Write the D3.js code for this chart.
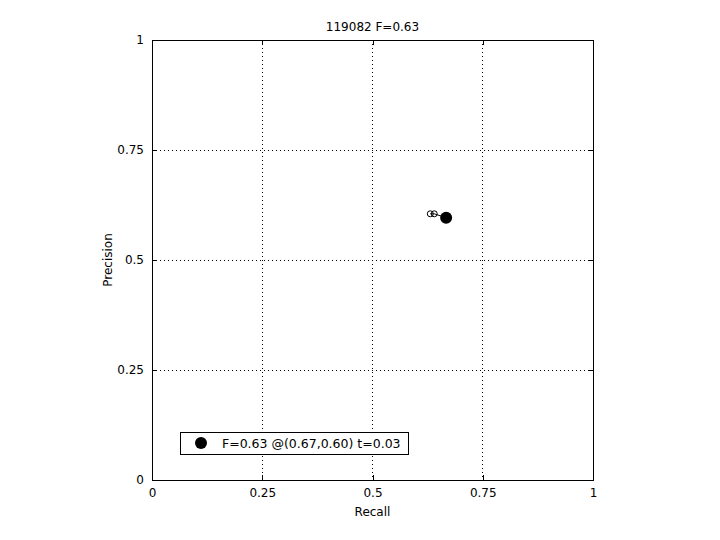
<!DOCTYPE html>
<html><head><meta charset="utf-8">
<script src="https://cdn.jsdelivr.net/npm/d3@7"></script>
<style>body{margin:0;background:#fff}svg{display:block}text{font-family:"DejaVu Sans",sans-serif;font-size:12px;fill:#000}</style>
</head><body>
<script>
const title = "119082 F=0.63";
const ticks = [0, 0.25, 0.5, 0.75, 1];
const tickLabels = ["0", "0.25", "0.5", "0.75", "1"];
const curveRecall = [0.631, 0.640, 0.667];
const curvePrecision = [0.605, 0.605, 0.596];
const bestRecall = [0.667];
const bestPrecision = [0.596];
const legendText = "F=0.63 @(0.67,0.60) t=0.03";

const W = 720, H = 540;
const L = 152, R = 593, T = 40, B = 480;
const FONT = '"DejaVu Sans",sans-serif';
const svg = d3.select("body").append("svg").attr("width", W).attr("height", H);
const x = d3.scaleLinear().domain([0, 1]).range([L, R]);
const y = d3.scaleLinear().domain([0, 1]).range([B, T]);

// grid
const g = svg.append("g");
ticks.slice(1, -1).forEach(t => {
  g.append("line").attr("x1", x(t)).attr("x2", x(t)).attr("y1", T).attr("y2", B)
    .attr("stroke", "#000").attr("stroke-width", 1).attr("stroke-dasharray", "1,3").attr("shape-rendering", "crispEdges");
  g.append("line").attr("y1", y(t)).attr("y2", y(t)).attr("x1", L).attr("x2", R)
    .attr("stroke", "#000").attr("stroke-width", 1).attr("stroke-dasharray", "1,3").attr("shape-rendering", "crispEdges");
});

// axes
const xAxisB = d3.axisBottom(x).tickValues(ticks).tickFormat((d, i) => tickLabels[i]).tickSizeInner(-5).tickSizeOuter(0).tickPadding(8);
const xAxisT = d3.axisTop(x).tickValues(ticks).tickFormat("").tickSizeInner(-5).tickSizeOuter(0);
const yAxisL = d3.axisLeft(y).tickValues(ticks).tickFormat((d, i) => tickLabels[i]).tickSizeInner(-5).tickSizeOuter(0).tickPadding(8);
const yAxisR = d3.axisRight(y).tickValues(ticks).tickFormat("").tickSizeInner(-5).tickSizeOuter(0);
[[xAxisB, `translate(0,${B})`], [xAxisT, `translate(0,${T})`], [yAxisL, `translate(${L},0)`], [yAxisR, `translate(${R},0)`]].forEach(([ax, tr]) => {
  const a = svg.append("g").attr("transform", tr).call(ax);
  a.selectAll("path,line").attr("stroke", "#000").attr("shape-rendering", "crispEdges");
  a.selectAll("text").style("font-family", FONT).style("font-size", "12px").attr("fill", "#000");
});

svg.append("text").attr("x", (L + R) / 2).attr("y", 31).attr("text-anchor", "middle").text(title);
svg.append("text").attr("x", (L + R) / 2).attr("y", 516).attr("text-anchor", "middle").text("Recall");
svg.append("text").attr("transform", `translate(112,${(T + B) / 2}) rotate(-90)`).attr("text-anchor", "middle").text("Precision");

// curve
const pts = curveRecall.map((r, i) => [r, curvePrecision[i]]);
svg.append("path").datum(pts).attr("d", d3.line().x(d => x(d[0])).y(d => y(d[1])))
  .attr("fill", "none").attr("stroke", "#000").attr("stroke-width", 1);
svg.selectAll("circle.pt").data(pts.slice(0, -1)).enter().append("circle").attr("class", "pt")
  .attr("cx", d => x(d[0])).attr("cy", d => y(d[1])).attr("r", 3)
  .attr("fill", "none").attr("stroke", "#000").attr("stroke-width", 1);
svg.selectAll("circle.best").data(bestRecall).enter().append("circle").attr("class", "best")
  .attr("cx", d => x(d)).attr("cy", (d, i) => y(bestPrecision[i])).attr("r", 6).attr("fill", "#000");

// legend
const lg = svg.append("g");
lg.append("rect").attr("x", 180.5).attr("y", 432.5).attr("width", 228).attr("height", 22)
  .attr("fill", "#fff").attr("stroke", "#000").attr("stroke-width", 1);
lg.append("circle").attr("cx", 201).attr("cy", 443).attr("r", 6).attr("fill", "#000");
lg.append("text").attr("x", 222).attr("y", 448).style("font-size", "12.5px").text(legendText);
</script>
</body></html>
